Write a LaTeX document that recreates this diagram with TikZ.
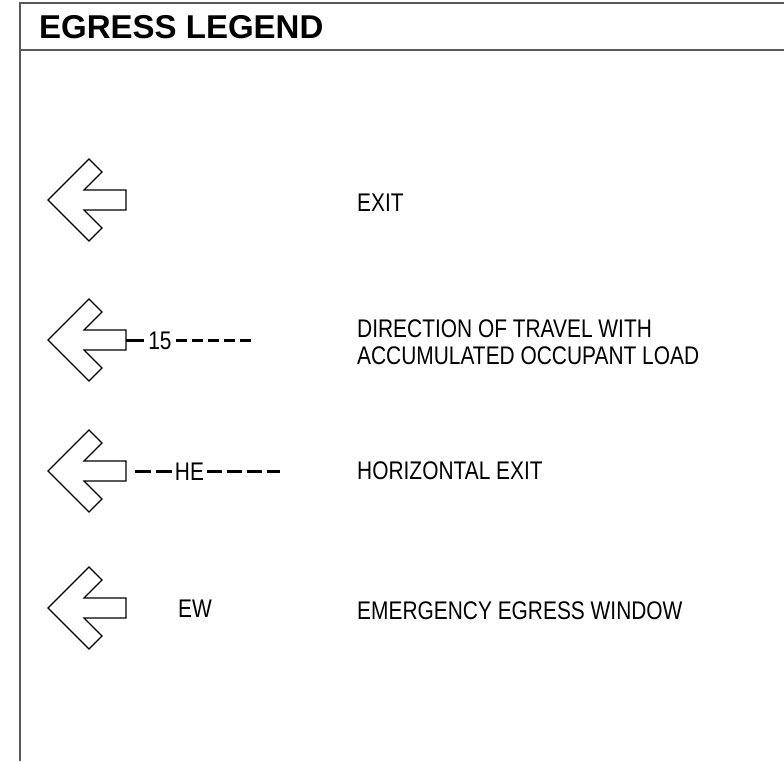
\documentclass[tikz,border=0pt]{standalone}
\usepackage{fontspec}
\setmainfont{Liberation Sans}
\newfontfamily\narrowsans[FakeStretch=0.82]{Liberation Sans}
\usepackage{tikz}
\usetikzlibrary{positioning, calc}

\begin{document}
\begin{tikzpicture}[x=1pt, y=-1pt]
			\tikzstyle{frameline}=[draw=black!65, line width=1.6]
			\tikzstyle{egressarrow}=[draw=black, line width=1.1, line join=miter, fill=white]
			\tikzstyle{legendtext}=[anchor=west, inner sep=0pt, font=\narrowsans\fontsize{25.5}{27}\selectfont, align=left, text=black]
			\tikzstyle{pathtext}=[inner xsep=4.5pt, inner ysep=0pt, font=\narrowsans\fontsize{25.5}{27}\selectfont]
			\tikzstyle{solidline}=[draw=black, line width=2.6]
			\tikzstyle{dashline}=[draw=black, line width=2.6]
			
			\useasboundingbox (0,0) rectangle (784,761);
			
			% frame and header
			\draw [frameline] (20,761) -- (20,3) -- (784,3);
			\draw [frameline] (20,50) -- (784,50);
			\node (title) at (39,27.2) [anchor=west, inner sep=0pt, font=\fontsize{33}{40}\selectfont\bfseries] {EGRESS LEGEND};
			
			% arrows
			\foreach \yy/\nn in {200/t0, 340/t1, 471/t2, 608/t3} {
				\draw [egressarrow, shift={(48,\yy)}] (0,0) -- (41,-41) -- (54,-28) -- (36,-10) -- (78,-10) -- (78,10) -- (36,10) -- (54,28) -- (41,41) -- cycle;
				\coordinate (\nn) at (126,\yy);
			}
			
			% exit
			\node (l0) at (357,202.5) [legendtext] {EXIT};
			
			% direction of travel
			\node (n1) at (160,340.5) [pathtext] {15};
			\coordinate (e1) at (252,340.5);
			\draw [solidline] (t1 |- n1) -- (n1);
			\draw [dashline, dash pattern=on 11pt off 5pt] (n1) -- (e1);
			\node (l1) at (357,342.5) [legendtext] {DIRECTION OF TRAVEL WITH\\ACCUMULATED OCCUPANT LOAD};
			
			% horizontal exit
			\coordinate (s2) at (135,471.5);
			\node (n2) at (189.5,471.5) [pathtext, inner xsep=3pt] {HE};
			\coordinate (e2) at (280,471.5);
			\draw [dashline, dash pattern=on 16pt off 5pt] (s2) -- (n2);
			\draw [dashline, dash pattern=on 15pt off 5pt] (n2) -- (e2);
			\node (l2) at (357,471) [legendtext] {HORIZONTAL EXIT};
			
			% emergency egress window
			\node (n3) at (195,609) [pathtext] {EW};
			\node (l3) at (357,611) [legendtext] {EMERGENCY EGRESS WINDOW};
			
\end{tikzpicture}
\end{document}
